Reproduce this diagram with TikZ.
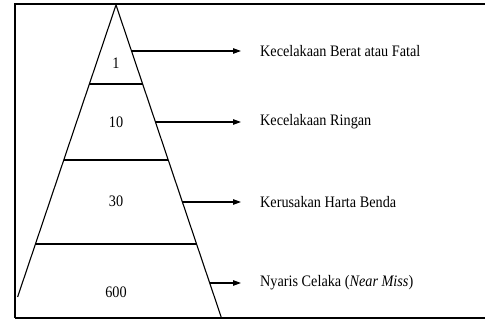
\documentclass[tikz,border=0pt]{standalone}
\usepackage{fontspec}
\setmainfont{Liberation Serif}
\usetikzlibrary{arrows.meta,calc}
\begin{document}
\begin{tikzpicture}[x=1pt,y=-1pt,
  frame/.style={line width=2.6pt},
  pyr/.style={line width=1.1pt},
  num/.style={font=\fontsize{16}{17}\selectfont, inner sep=0pt},
  lab/.style={font=\fontsize{16}{17}\selectfont, anchor=west, inner sep=0pt},
  arr/.style={line width=1.1pt, -{Triangle[length=8pt,width=5.5pt]}}]
\useasboundingbox (0,0) rectangle (485,320);
\clip (0,0) rectangle (485,320);
% frame
\draw[frame] (15,318) -- (15,4) -- (495,4);
\draw[frame] (15,318) -- (495,318);
% pyramid
\coordinate (apex) at (116,5);
\coordinate (lb) at (17.6,297);
\coordinate (rb) at (221.5,318);
\draw[pyr] (lb) -- (apex) -- (rb);
\draw[pyr] (89.4,84) -- (142.6,84);
\draw[pyr] (63.8,160) -- (168.2,160);
\draw[pyr] (35.5,244) -- (196.5,244);
% numbers
\node[num] (n1) at (116,63) {\scalebox{0.89}[1]{1}};
\node[num] (n2) at (116,122) {\scalebox{0.89}[1]{10}};
\node[num] (n3) at (116,201) {\scalebox{0.89}[1]{30}};
\node[num] (n4) at (116,292) {\scalebox{0.89}[1]{600}};
% arrow start points on right side
\coordinate (s1) at (131.5,51);
\coordinate (s2) at (155.4,122);
\coordinate (s3) at (182.4,202);
\coordinate (s4) at (209.7,283);
% labels
\node[lab] (t1) at (260,51) {\scalebox{0.89}[1]{Kecelakaan Berat atau Fatal}};
\node[lab] (t2) at (260,122) {\scalebox{0.89}[1]{Kecelakaan Ringan}};
\node[lab] (t3) at (260,202) {\scalebox{0.89}[1]{Kerusakan Harta Benda}};
\node[lab] (t4) at (260,283) {\scalebox{0.89}[1]{Nyaris Celaka (\textit{Near Miss})}};
\draw[arr, shorten >=19pt] (s1) -- (t1.west);
\draw[arr, shorten >=19pt] (s2) -- (t2.west);
\draw[arr, shorten >=19pt] (s3) -- (t3.west);
\draw[arr, shorten >=19pt] (s4) -- (t4.west);
\end{tikzpicture}
\end{document}
